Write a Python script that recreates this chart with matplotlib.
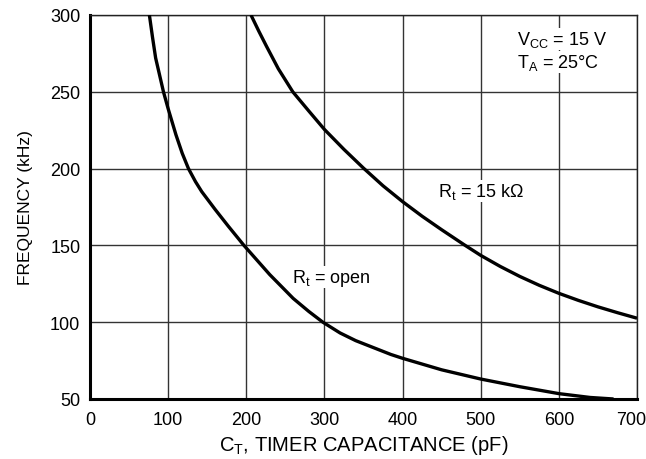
import matplotlib
matplotlib.use("Agg")
import matplotlib.pyplot as plt
from matplotlib.transforms import ScaledTranslation

plt.rcParams['font.family'] = ['Liberation Sans', 'DejaVu Sans']

# Rt = open curve
ct_open = [76, 80, 84, 94, 100, 110, 118, 126, 135, 143, 160, 177, 197, 230, 260, 280, 298, 320, 340, 360, 385, 400, 450, 500, 550, 600, 640, 670]
f_open = [300, 285.5, 272, 250, 239, 222, 210, 200, 191.5, 185, 173.5, 162.5, 150, 131, 115.5, 107, 100, 93, 88, 84, 79, 76.5, 69, 63, 58, 53.5, 51, 50]

# Rt = 15 kOhm curve
ct_15k = [206, 216, 226, 241, 259.5, 280, 300, 325, 350, 375, 400, 425, 450, 478.6, 500, 525, 550, 575, 600, 625, 650, 675, 700]
f_15k = [300, 289.5, 279.5, 265, 250, 237.5, 225.5, 212.5, 200.3, 188.8, 178.5, 169, 160.2, 150.5, 143.5, 136.3, 129.8, 124, 118.8, 114.2, 110, 106.2, 102.6]

x_ticks = [0, 100, 200, 300, 400, 500, 600, 700]
y_ticks = [50, 100, 150, 200, 250, 300]

fig = plt.figure(figsize=(6.46, 4.60), dpi=100)
ax = fig.add_axes([90/646, 60/460, 547/646, 384/460])

ax.plot(ct_open, f_open, color='black', lw=2.4, solid_capstyle='butt', solid_joinstyle='round', zorder=3)
ax.plot(ct_15k, f_15k, color='black', lw=2.4, solid_capstyle='butt', solid_joinstyle='round', zorder=3)

ax.set_xlim(0, 700)
ax.set_ylim(50, 300)
ax.set_xticks(x_ticks)
ax.set_yticks(y_ticks)
ax.set_xticklabels([str(v) for v in x_ticks])
ax.set_yticklabels([str(v) for v in y_ticks])
ax.tick_params(length=0, labelsize=13, colors='black')
ax.tick_params(axis='x', pad=9)
ax.tick_params(axis='y', pad=7)
ax.grid(True, color='#333333', lw=1.0)
ax.set_axisbelow(True)

last = ax.get_xticklabels()[-1]
last.set_transform(last.get_transform() + ScaledTranslation(-6/100, 0, fig.dpi_scale_trans))

for s in ['top', 'right']:
    ax.spines[s].set_linewidth(1.0)
    ax.spines[s].set_color('#222222')
for s in ['left', 'bottom']:
    ax.spines[s].set_linewidth(2.2)
    ax.spines[s].set_color('black')

ax.set_xlabel('C$_\\mathregular{T}$, TIMER CAPACITANCE (pF)', fontsize=14.5, labelpad=3)
ax.set_ylabel('FREQUENCY (kHz)', fontsize=12.5, labelpad=12)

bb = dict(facecolor='white', edgecolor='none', pad=0.5)
ax.text(547, 284.4, 'V$_\\mathregular{CC}$ = 15 V', fontsize=13, va='center', ha='left', bbox=bb, zorder=4)
ax.text(547, 269.4, 'T$_\\mathregular{A}$ = 25°C', fontsize=13, va='center', ha='left', bbox=bb, zorder=4)
ax.text(445.6, 185.4, 'R$_\\mathregular{t}$ = 15 kΩ', fontsize=13, va='center', ha='left', bbox=bb, zorder=4)
ax.text(258, 129.4, 'R$_\\mathregular{t}$ = open', fontsize=13, va='center', ha='left', bbox=bb, zorder=4)

fig.savefig('out.png', dpi=100)
